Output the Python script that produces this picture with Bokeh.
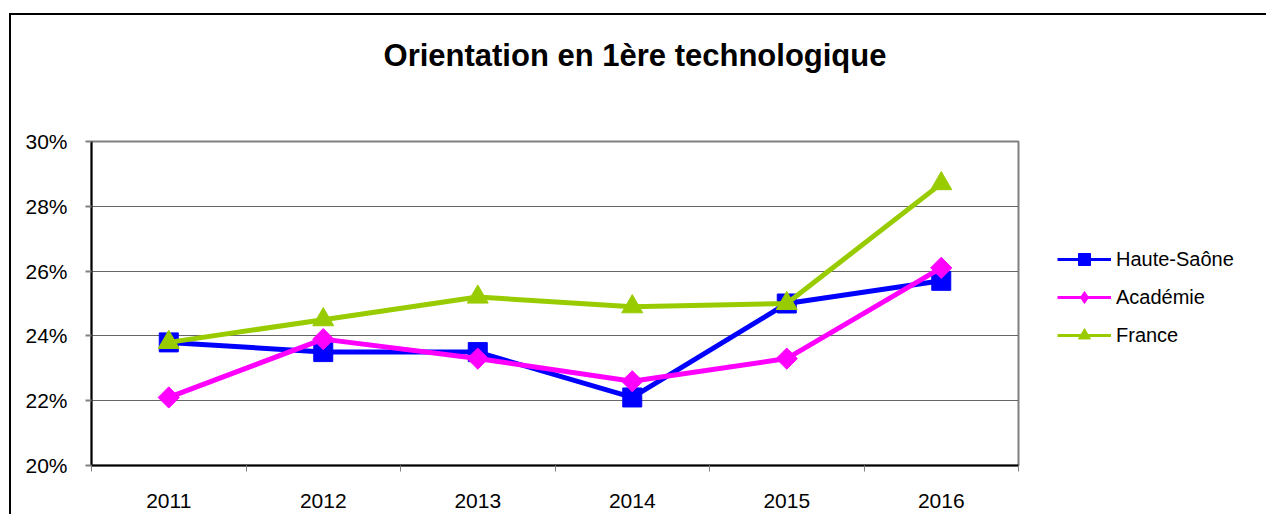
import math
from bokeh.plotting import figure
from bokeh.layouts import column, row
from bokeh.models import (Range1d, FixedTicker, NumeralTickFormatter, Legend,
                          LegendItem, Label)
from bokeh.embed import file_html
from bokeh.resources import INLINE

# ---------------- data ----------------
years = ["2011", "2012", "2013", "2014", "2015", "2016"]
haute_saone = [0.238, 0.235, 0.235, 0.221, 0.250, 0.257]
academie = [0.221, 0.239, 0.233, 0.226, 0.233, 0.261]
france = [0.238, 0.245, 0.252, 0.249, 0.250, 0.287]
series_names = ["Haute-Saône", "Académie", "France"]
y_ticks = [0.20, 0.22, 0.24, 0.26, 0.28, 0.30]
title_text = "Orientation en 1ère technologique"

FONT = "Liberation Sans"
xs = [i + 0.5 for i in range(len(years))]
colors = ["#0000FF", "#FF00FF", "#99CC00"]
markers = ["square", "square", "triangle"]
legend_markers = ["square", "diamond", "triangle"]
angles = [0, math.pi / 4, 0]
sizes = [19, 15, 21]
values = [haute_saone, academie, france]


def blank_fig(w, h):
    f = figure(width=w, height=h, output_backend="svg", toolbar_location=None,
               x_range=Range1d(0, 1), y_range=Range1d(0, 1),
               x_axis_location=None, y_axis_location=None, min_border=0)
    f.grid.visible = False
    f.outline_line_color = None
    f.background_fill_color = "white"
    f.border_fill_color = "white"
    return f


# ---------------- title strip ----------------
ptitle = blank_fig(1257, 100)
ptitle.add_layout(Label(x=623.5, y=60, x_units="screen", y_units="screen",
                        text=title_text, text_align="center",
                        text_baseline="alphabetic", text_font=FONT,
                        text_font_style="bold", text_font_size="31px",
                        text_color="black"))

# ---------------- main chart ----------------
p = figure(width=1013, height=401, output_backend="svg", toolbar_location=None,
           x_range=Range1d(0, len(years)), y_range=Range1d(y_ticks[0], y_ticks[-1]),
           min_border_left=80, min_border_right=6, min_border_top=26,
           min_border_bottom=51)
p.background_fill_color = "white"
p.border_fill_color = "white"
p.outline_line_color = "#808080"
p.outline_line_width = 2

# x axis: labels at category centers, ticks at category boundaries
p.xaxis.ticker = FixedTicker(ticks=xs, minor_ticks=list(range(len(years) + 1)))
p.xaxis.major_label_overrides = {x: y for x, y in zip(xs, years)}
p.xaxis.major_tick_line_color = None
p.xaxis.major_tick_out = 0
p.xaxis.major_tick_in = 0
p.xaxis.minor_tick_out = 6
p.xaxis.minor_tick_in = 0
p.xaxis.minor_tick_line_color = "#808080"
p.xaxis.minor_tick_line_width = 1
p.xaxis.axis_line_color = "black"
p.xaxis.axis_line_width = 2
p.xaxis.major_label_text_font = FONT
p.xaxis.major_label_text_font_size = "21px"
p.xaxis.major_label_text_color = "black"
p.xaxis.major_label_standoff = 22

# y axis
p.yaxis.ticker = FixedTicker(ticks=y_ticks)
p.yaxis.formatter = NumeralTickFormatter(format="0%")
p.yaxis.major_tick_out = 6
p.yaxis.major_tick_in = 0
p.yaxis.major_tick_line_color = "#808080"
p.yaxis.major_tick_line_width = 2
p.yaxis.minor_tick_line_color = None
p.yaxis.axis_line_color = "black"
p.yaxis.axis_line_width = 2
p.yaxis.major_label_text_font = FONT
p.yaxis.major_label_text_font_size = "21px"
p.yaxis.major_label_text_color = "black"
p.yaxis.major_label_standoff = 18

p.xgrid.visible = False
p.ygrid.grid_line_color = "#666666"
p.ygrid.grid_line_width = 1

for vals, c, m, a, s in zip(values, colors, markers, angles, sizes):
    p.line(xs, vals, line_color=c, line_width=5)
    p.scatter(xs, vals, marker=m, angle=a, size=s, fill_color=c, line_color=c)

# ---------------- legend strip ----------------
pleg = blank_fig(244, 401)
items = []
for name, c, lm, s in zip(series_names, colors, legend_markers, sizes):
    lr = pleg.line([float("nan")], [float("nan")], line_color=c, line_width=3)
    sr = pleg.scatter([float("nan")], [float("nan")], marker=lm, size=s,
                      fill_color=c, line_color=c)
    items.append(LegendItem(label=name, renderers=[lr, sr]))

legend = Legend(items=items, location=(33, 115), orientation="vertical",
                glyph_width=54, glyph_height=30, spacing=8, padding=0, margin=0,
                border_line_color=None, background_fill_alpha=0,
                label_text_font=FONT, label_text_font_size="20px",
                label_text_color="black", label_standoff=5)
pleg.add_layout(legend)

layout = column(ptitle, row(p, pleg), margin=(15, 0, 0, 11),
                styles={"box-shadow": "-2px -2px 0px 0px black"})

open("out.html", "w").write(file_html(layout, INLINE))
